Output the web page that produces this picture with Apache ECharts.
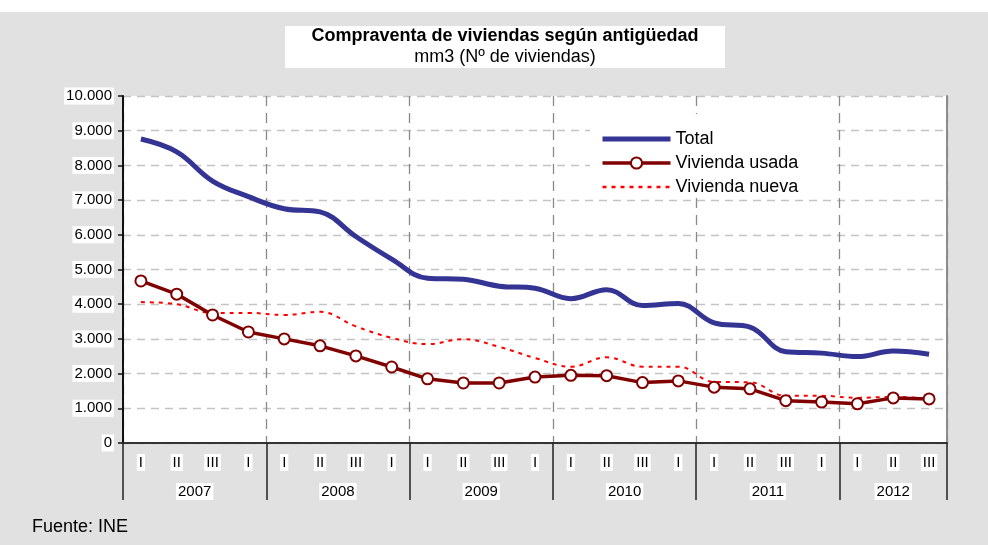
<!DOCTYPE html>
<html>
<head>
<meta charset="utf-8">
<script src="https://cdn.jsdelivr.net/npm/echarts@6/dist/echarts.min.js"></script>
<style>
  html, body { margin: 0; padding: 0; background: #fff; }
  #main {
    width: 988px; height: 545px;
    background: linear-gradient(#fff 0, #fff 12px, #e1e1e1 12px, #e1e1e1 100%);
  }
</style>
</head>
<body>
<div id="main"></div>
<script>
// trimestres 2007 I - 2012 III
var periods = [
    '2007-I', '2007-II', '2007-III', '2007-IV',
    '2008-I', '2008-II', '2008-III', '2008-IV',
    '2009-I', '2009-II', '2009-III', '2009-IV',
    '2010-I', '2010-II', '2010-III', '2010-IV',
    '2011-I', '2011-II', '2011-III', '2011-IV',
    '2012-I', '2012-II', '2012-III'
];
// etiquetas tal como aparecen (el IV sale como "I")
var quarterLabels = [
    'I', 'II', 'III', 'I', 'I', 'II', 'III', 'I', 'I', 'II', 'III', 'I',
    'I', 'II', 'III', 'I', 'I', 'II', 'III', 'I', 'I', 'II', 'III'
];
var years = ['2007', '2008', '2009', '2010', '2011', '2012'];
var yearTicks = [0, 4, 8, 12, 16, 20, 23];
var yearLabelPos = [2, 6, 10, 14, 18, 21.5];

var total = [
    8760, 8390, 7550, 7100,
    6750, 6660, 5950, 5300,
    4750, 4720, 4520, 4460,
    4160, 4420, 3960, 4020,
    3460, 3340, 2630, 2590,
    2490, 2650, 2560
];
var usada = [
    4670, 4290, 3690, 3200,
    3000, 2800, 2510, 2190,
    1850, 1730, 1730, 1900,
    1950, 1940, 1740, 1790,
    1610, 1560, 1220, 1180,
    1130, 1300, 1270
];
var nueva = [
    4060, 4000, 3750, 3750,
    3690, 3780, 3360, 3030,
    2850, 2990, 2770, 2450,
    2200, 2470, 2200, 2200,
    1760, 1750, 1360, 1360,
    1300, 1330, 1270
];

var FONT = '"Liberation Sans", Arial, sans-serif';
var myChart = echarts.init(document.getElementById('main'));

var option = {
    backgroundColor: 'transparent',
    animation: false,
    textStyle: { fontFamily: FONT, color: '#000' },
    graphic: [
        {
            type: 'rect', z: 1,
            shape: { x: 285, y: 26, width: 440, height: 42 },
            style: { fill: '#fff' }
        },
        {
            type: 'text', z: 2, x: 505, y: 27,
            style: {
                text: 'Compraventa de viviendas según antigüedad',
                font: 'bold 18px ' + FONT, fill: '#000', textAlign: 'center'
            }
        },
        {
            type: 'text', z: 2, x: 505, y: 48,
            style: {
                text: 'mm3 (Nº de viviendas)',
                font: '18px ' + FONT, fill: '#000', textAlign: 'center'
            }
        },
        {
            type: 'rect', z: 1,
            shape: { x: 590, y: 114, width: 245, height: 83 },
            style: { fill: '#fff' }
        },
        {
            type: 'text', z: 2, x: 32, y: 518,
            style: { text: 'Fuente: INE', font: '18px ' + FONT, fill: '#000' }
        }
    ],
    grid: {
        left: 123,
        right: 41,
        top: 96,
        bottom: 102,
        show: true,
        backgroundColor: '#fff',
        borderWidth: 0
    },
    legend: {
        orient: 'vertical',
        left: 595,
        top: 125,
        itemWidth: 68,
        itemHeight: 14,
        itemGap: 6,
        textStyle: { fontSize: 18, color: '#000', fontFamily: FONT },
        data: [
            { name: 'Total', itemStyle: { opacity: 0 }, lineStyle: { width: 5 } },
            { name: 'Vivienda usada', itemStyle: { borderWidth: 2 }, lineStyle: { width: 3.5 } },
            { name: 'Vivienda nueva', itemStyle: { opacity: 0 }, lineStyle: { width: 2.5 } }
        ]
    },
    xAxis: [{
        type: 'category',
        data: periods,
        boundaryGap: true,
        axisLine: { lineStyle: { color: '#333', width: 2 } },
        axisTick: { interval: 0, length: 32, lineStyle: { color: '#222', width: 1.5 } },
        axisLabel: {
            interval: 0,
            margin: 11,
            fontSize: 15,
            color: '#000',
            backgroundColor: '#fff',
            padding: [1, 2],
            formatter: function(v, i) { return quarterLabels[i]; }
        },
        splitLine: {
            show: true,
            interval: function(index) { return index % 4 === 0; },
            lineStyle: { color: '#8a8a8a', type: [10, 7], width: 1.3 }
        }
    }, {
        type: 'value',
        position: 'bottom',
        min: 0,
        max: 23,
        axisLine: { show: false },
        axisTick: {
            show: true,
            customValues: yearTicks,
            length: 57,
            lineStyle: { color: '#222', width: 1.5 }
        },
        axisLabel: {
            customValues: yearLabelPos,
            margin: 40,
            fontSize: 15,
            color: '#000',
            backgroundColor: '#fff',
            padding: [1, 2],
            formatter: function(v) { return years[Math.floor(v / 4)]; }
        },
        splitLine: { show: false }
    }],
    yAxis: [{
        type: 'value',
        min: 0,
        max: 10000,
        interval: 1000,
        axisLine: { show: true, lineStyle: { color: '#111', width: 2 } },
        axisTick: { show: true, length: 5, lineStyle: { color: '#111', width: 1.5 } },
        axisLabel: {
            margin: 9,
            fontSize: 15,
            color: '#000',
            backgroundColor: '#fff',
            padding: [1, 2],
            formatter: function(v) { return v === 0 ? '0' : (v / 1000) + '.000'; }
        },
        splitLine: { lineStyle: { color: '#c4c4c4', type: [8, 6], width: 1.3 } }
    }, {
        type: 'value',
        position: 'right',
        min: 0,
        max: 10000,
        axisLine: { show: true, lineStyle: { color: '#8c8c8c', width: 2 } },
        axisTick: { show: false },
        axisLabel: { show: false },
        splitLine: { show: false }
    }],
    series: [{
        name: 'Total',
        type: 'line',
        data: total,
        smooth: 0.4,
        symbol: 'none',
        z: 4,
        itemStyle: { color: '#343494' },
        lineStyle: { color: '#343494', width: 5 }
    }, {
        name: 'Vivienda usada',
        type: 'line',
        data: usada,
        symbol: 'circle',
        symbolSize: 11,
        z: 4,
        itemStyle: { color: '#fff', borderColor: '#800000', borderWidth: 2 },
        lineStyle: { color: '#800000', width: 3.5 }
    }, {
        name: 'Vivienda nueva',
        type: 'line',
        data: nueva,
        smooth: 0.4,
        symbol: 'none',
        z: 3,
        itemStyle: { color: '#ff0000' },
        lineStyle: { color: '#ff0000', width: 2, type: [4, 5] }
    }]
};

myChart.setOption(option);
</script>
</body>
</html>
